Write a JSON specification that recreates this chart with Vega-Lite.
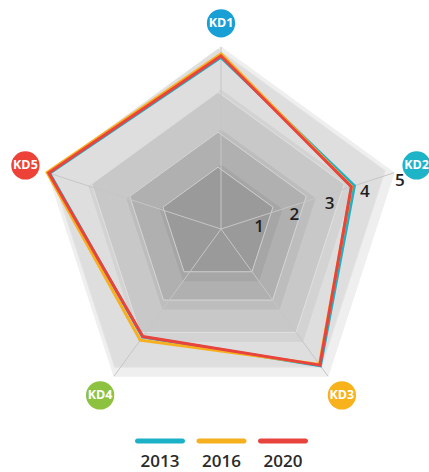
{
  "$schema": "https://vega.github.io/schema/vega-lite/v6.json",
  "padding": 0,
  "config": {"view": {"stroke": null}, "concat": {"spacing": 0}, "font": "Open Sans"},
  "datasets": {
    "axes": [
      {"axis": "KD1", "i": 0}, {"axis": "KD2", "i": 1}, {"axis": "KD3", "i": 2},
      {"axis": "KD4", "i": 3}, {"axis": "KD5", "i": 4}
    ],
    "series": [
      {"year": "2013", "axis": "KD1", "i": 0, "value": 4.76},
      {"year": "2013", "axis": "KD2", "i": 1, "value": 4.03},
      {"year": "2013", "axis": "KD3", "i": 2, "value": 4.70},
      {"year": "2013", "axis": "KD4", "i": 3, "value": 3.86},
      {"year": "2013", "axis": "KD5", "i": 4, "value": 4.96},
      {"year": "2016", "axis": "KD1", "i": 0, "value": 4.84},
      {"year": "2016", "axis": "KD2", "i": 1, "value": 3.96},
      {"year": "2016", "axis": "KD3", "i": 2, "value": 4.66},
      {"year": "2016", "axis": "KD4", "i": 3, "value": 3.96},
      {"year": "2016", "axis": "KD5", "i": 4, "value": 5.02},
      {"year": "2020", "axis": "KD1", "i": 0, "value": 4.79},
      {"year": "2020", "axis": "KD2", "i": 1, "value": 3.95},
      {"year": "2020", "axis": "KD3", "i": 2, "value": 4.68},
      {"year": "2020", "axis": "KD4", "i": 3, "value": 3.85},
      {"year": "2020", "axis": "KD5", "i": 4, "value": 4.98}
    ],
    "rings": [
      {"ring": 5, "part": "wall", "i": [0, 1, 2, 3, 4]},
      {"ring": 5, "part": "face", "i": [0, 1, 2, 3, 4]},
      {"ring": 4, "part": "wall", "i": [0, 1, 2, 3, 4]},
      {"ring": 4, "part": "face", "i": [0, 1, 2, 3, 4]},
      {"ring": 3, "part": "wall", "i": [0, 1, 2, 3, 4]},
      {"ring": 3, "part": "face", "i": [0, 1, 2, 3, 4]},
      {"ring": 2, "part": "wall", "i": [0, 1, 2, 3, 4]},
      {"ring": 2, "part": "face", "i": [0, 1, 2, 3, 4]}
    ],
    "ticks": [{"k": 1}, {"k": 2}, {"k": 3}, {"k": 4}, {"k": 5}],
    "legend": [{"year": "2013"}, {"year": "2016"}, {"year": "2020"}]
  },
  "vconcat": [
    {
      "width": 429,
      "height": 425,
      "resolve": {"scale": {"color": "independent", "fill": "independent", "stroke": "independent"}},
      "layer": [
        {
          "data": {"name": "rings"},
          "transform": [
            {"flatten": ["i"]},
            {"calculate": "PI/2 - datum.i*2*PI/5", "as": "a"},
            {"calculate": "datum.ring<=2 ? 32*datum.ring : (datum.ring<=3 ? 64+35*(datum.ring-2) : (datum.ring<=4 ? 99+40*(datum.ring-3) : 139+43*(datum.ring-4)))", "as": "rv"},
            {"calculate": "datum.part=='face' ? datum.rv-6.2 : datum.rv", "as": "r"},
            {"calculate": "datum.r*cos(datum.a) + (datum.part=='face' ? -3 : 0)", "as": "x"},
            {"calculate": "datum.r*sin(datum.a) + (datum.part=='face' ? 4 : 0)", "as": "y"},
            {"calculate": "datum.ring + '-' + datum.part", "as": "key"}
          ],
          "mark": {"type": "line", "interpolate": "linear-closed", "strokeWidth": 1},
          "encoding": {
            "x": {"field": "x", "type": "quantitative", "scale": {"domain": [-221, 208], "nice": false, "zero": false}, "axis": null},
            "y": {"field": "y", "type": "quantitative", "scale": {"domain": [-196, 229], "nice": false, "zero": false}, "axis": null},
            "order": {"field": "i", "type": "quantitative"},
            "fill": {"field": "key", "type": "nominal", "legend": null,
              "scale": {"domain": ["5-wall", "5-face", "4-wall", "4-face", "3-wall", "3-face", "2-wall", "2-face"],
                        "range": ["#efefef", "#dedede", "#d3d3d3", "#c8c8c8", "#bdbdbd", "#b0b0b0", "#a6a6a6", "#9a9a9a"]}},
            "stroke": {"field": "key", "type": "nominal", "legend": null,
              "scale": {"domain": ["5-wall", "5-face", "4-wall", "4-face", "3-wall", "3-face", "2-wall", "2-face"],
                        "range": ["#efefef", "#e4e4e4", "#d3d3d3", "#e0e0e0", "#bdbdbd", "#d6d6d6", "#a6a6a6", "#cfcfcf"]}}
          }
        },
        {
          "data": {"name": "axes"},
          "transform": [
            {"calculate": "PI/2 - datum.i*2*PI/5", "as": "a"},
            {"calculate": "182*cos(datum.a)", "as": "x"},
            {"calculate": "182*sin(datum.a)", "as": "y"},
            {"calculate": "0", "as": "o"}
          ],
          "mark": {"type": "rule", "color": "#c6c6c6", "strokeWidth": 1},
          "encoding": {
            "x": {"field": "o", "type": "quantitative"},
            "y": {"field": "o", "type": "quantitative"},
            "x2": {"field": "x"},
            "y2": {"field": "y"}
          }
        },
        {
          "data": {"name": "series"},
          "transform": [
            {"calculate": "PI/2 - datum.i*2*PI/5", "as": "a"},
            {"calculate": "datum.value<=2 ? 32*datum.value : (datum.value<=3 ? 64+35*(datum.value-2) : (datum.value<=4 ? 99+40*(datum.value-3) : 139+43*(datum.value-4)))", "as": "r"},
            {"calculate": "datum.r*cos(datum.a)", "as": "x"},
            {"calculate": "datum.r*sin(datum.a)", "as": "y"}
          ],
          "mark": {"type": "line", "interpolate": "linear-closed", "strokeWidth": 3, "strokeJoin": "miter"},
          "encoding": {
            "x": {"field": "x", "type": "quantitative"},
            "y": {"field": "y", "type": "quantitative"},
            "order": {"field": "i", "type": "quantitative"},
            "color": {"field": "year", "type": "nominal", "legend": null,
              "scale": {"domain": ["2013", "2016", "2020"], "range": ["#1cb1c6", "#f6b01e", "#e8433c"]}}
          }
        },
        {
          "data": {"name": "ticks"},
          "transform": [
            {"calculate": "37*datum.k", "as": "lr"},
            {"calculate": "datum.lr*cos(PI/10)", "as": "x"},
            {"calculate": "datum.lr*sin(PI/10)", "as": "y"}
          ],
          "mark": {"type": "text", "dx": 3, "dy": 9, "fontSize": 17, "fontWeight": 600, "color": "#1e1e1e", "align": "center", "baseline": "middle"},
          "encoding": {
            "x": {"field": "x", "type": "quantitative"},
            "y": {"field": "y", "type": "quantitative"},
            "text": {"field": "k", "type": "nominal"}
          }
        },
        {
          "data": {"name": "axes"},
          "transform": [
            {"calculate": "PI/2 - datum.i*2*PI/5", "as": "a"},
            {"calculate": "139+43*1.55", "as": "r"},
            {"calculate": "datum.r*cos(datum.a)", "as": "x"},
            {"calculate": "datum.r*sin(datum.a)", "as": "y"}
          ],
          "mark": {"type": "point", "filled": true, "opacity": 1, "size": 800},
          "encoding": {
            "x": {"field": "x", "type": "quantitative"},
            "y": {"field": "y", "type": "quantitative"},
            "fill": {"field": "axis", "type": "nominal", "legend": null,
              "scale": {"domain": ["KD1", "KD2", "KD3", "KD4", "KD5"], "range": ["#189fd5", "#1db4c8", "#f7b21c", "#8cc23f", "#ec4238"]}}
          }
        },
        {
          "data": {"name": "axes"},
          "transform": [
            {"calculate": "PI/2 - datum.i*2*PI/5", "as": "a"},
            {"calculate": "139+43*1.55", "as": "r"},
            {"calculate": "datum.r*cos(datum.a)", "as": "x"},
            {"calculate": "datum.r*sin(datum.a)", "as": "y"}
          ],
          "mark": {"type": "text", "color": "white", "fontSize": 12.5, "fontWeight": "bold", "align": "center", "baseline": "middle"},
          "encoding": {
            "x": {"field": "x", "type": "quantitative"},
            "y": {"field": "y", "type": "quantitative"},
            "text": {"field": "axis", "type": "nominal"}
          }
        }
      ]
    },
    {
      "width": 429,
      "height": 47,
      "data": {"name": "legend"},
      "layer": [
        {
          "mark": {"type": "tick", "orient": "horizontal", "size": 50, "thickness": 5, "cornerRadius": 2.5, "opacity": 1, "yOffset": -7.5},
          "encoding": {
            "x": {"field": "year", "type": "nominal", "axis": null, "scale": {"type": "point", "padding": 0, "range": [160, 283]}},
            "color": {"field": "year", "type": "nominal", "legend": null,
              "scale": {"domain": ["2013", "2016", "2020"], "range": ["#1cb1c6", "#f6b01e", "#e8433c"]}}
          }
        },
        {
          "mark": {"type": "text", "dy": 13, "fontSize": 17, "fontWeight": 600, "color": "#2a2a2a", "align": "center", "baseline": "middle"},
          "encoding": {
            "x": {"field": "year", "type": "nominal", "axis": null, "scale": {"type": "point", "padding": 0, "range": [160, 283]}},
            "text": {"field": "year", "type": "nominal"}
          }
        }
      ]
    }
  ]
}
